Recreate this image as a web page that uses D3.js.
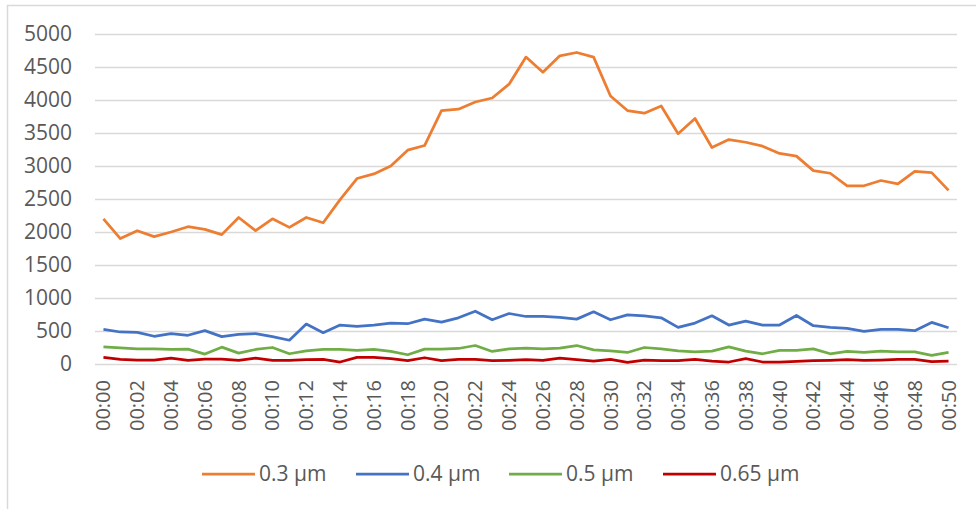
<!DOCTYPE html>
<html>
<head>
<meta charset="utf-8">
<script src="https://cdn.jsdelivr.net/npm/d3@7"></script>
<style>
  body { margin: 0; background: #fff; }
  text { font-family: "Open Sans", sans-serif; fill: #595959; }
</style>
</head>
<body>
<div id="chart"></div>
<script>
// time labels, one per minute
var times = d3.range(0, 51).map(function(m){ return "00:" + (m < 10 ? "0" + m : "" + m) })

var s03 = [2200,1900,2020,1930,2000,2080,2040,1960,2220,2020,2200,2070,2220,2140,2490,2810,2880,3000,
           3240,3310,3840,3860,3970,4030,4240,4650,4420,4670,4720,4650,4060,3840,3800,3910,3490,
           3720,3280,3400,3360,3300,3190,3150,2930,2890,2700,2700,2780,2730,2920,2900,2630]
var s04 = [525,485,480,420,460,435,505,415,450,460,415,360,605,475,590,570,590,620,
           610,680,635,700,800,670,765,720,720,705,680,790,670,745,730,700,555,
           620,730,590,650,590,590,735,580,555,540,495,525,525,505,630,550]
var s05 = [260,245,230,230,220,225,150,255,165,220,250,155,200,220,220,205,220,190,
           140,225,225,235,280,190,230,240,230,240,280,215,200,175,250,230,200,
           185,195,260,195,155,205,205,230,155,190,175,195,185,185,130,175]
var s065 = [100,70,60,60,90,55,75,75,55,90,55,55,65,70,30,100,100,80,
            50,95,50,70,70,50,55,65,55,90,65,45,70,25,60,50,50,
            70,45,30,80,30,30,40,50,55,65,55,60,70,70,35,45]

var seriesNames = ["0.3 µm","0.4 µm","0.5 µm","0.65 µm"]
var seriesColors = ["#ED7D31","#4472C4","#70AD47","#C00000"]
var yTicks = [0,500,1000,1500,2000,2500,3000,3500,4000,4500,5000]

var allSeries = [s03, s04, s05, s065]

var width = 976, height = 509
var margin = {top: 34, left: 95, right: 19, bottom: 145}

var svg = d3.select("#chart").append("svg")
    .attr("width", width).attr("height", height)

// chart border (only top/left visible in the original)
svg.append("rect")
    .attr("x", 7.5).attr("y", 5.5)
    .attr("width", width + 10).attr("height", height + 10)
    .style("fill", "none").style("stroke", "#d9d9d9").style("stroke-width", 1.5)

var x = d3.scaleBand()
    .domain(times)
    .range([margin.left, width - margin.right])

var y = d3.scaleLinear()
    .domain([0, 5000])
    .range([height - margin.bottom, margin.top])

// gridlines + y labels
var yAxis = svg.append("g")
    .attr("transform", "translate(" + margin.left + ",0)")
    .call(d3.axisLeft(y).tickValues(yTicks).tickFormat(d3.format("d"))
        .tickSize(-(width - margin.left - margin.right)).tickPadding(23))
yAxis.select(".domain").remove()
yAxis.selectAll(".tick line").style("stroke", "#d9d9d9").style("stroke-width", 1.5)
yAxis.selectAll(".tick text").style("font-size", "21px").style("fill", "#595959")

// x labels, every 2 minutes, rotated
var xlab = svg.append("g")
xlab.selectAll("text")
    .data(times.filter(function(d,i){ return i % 2 == 0 }))
    .enter().append("text")
    .attr("transform", function(d){
        return "translate(" + (x(d) + x.bandwidth()/2) + ",380) rotate(-90)"
    })
    .attr("dy", "0.35em")
    .attr("text-anchor", "end")
    .style("font-size", "20px")
    .text(function(d){ return d })

// lines
var line = d3.line()
    .x(function(d,i){ return x(times[i]) + x.bandwidth()/2 })
    .y(function(d){ return y(d) })

svg.selectAll(".series")
    .data(allSeries)
    .enter().append("path")
    .attr("class", "series")
    .attr("d", line)
    .style("fill", "none")
    .style("stroke", function(d,i){ return seriesColors[i] })
    .style("stroke-width", 2.75)
    .style("stroke-linejoin", "round")

// legend
var legendX = [202, 356, 509, 663]
var legend = svg.selectAll(".legend")
    .data(seriesNames)
    .enter().append("g")
    .attr("class", "legend")
    .attr("transform", function(d,i){ return "translate(" + legendX[i] + ",474)" })
legend.append("line")
    .attr("x1", 0).attr("x2", 53)
    .style("stroke", function(d,i){ return seriesColors[i] })
    .style("stroke-width", 2.75)
legend.append("text")
    .attr("x", 57).attr("dy", "0.35em")
    .style("font-size", "21px")
    .text(function(d){ return d })
</script>
</body>
</html>
